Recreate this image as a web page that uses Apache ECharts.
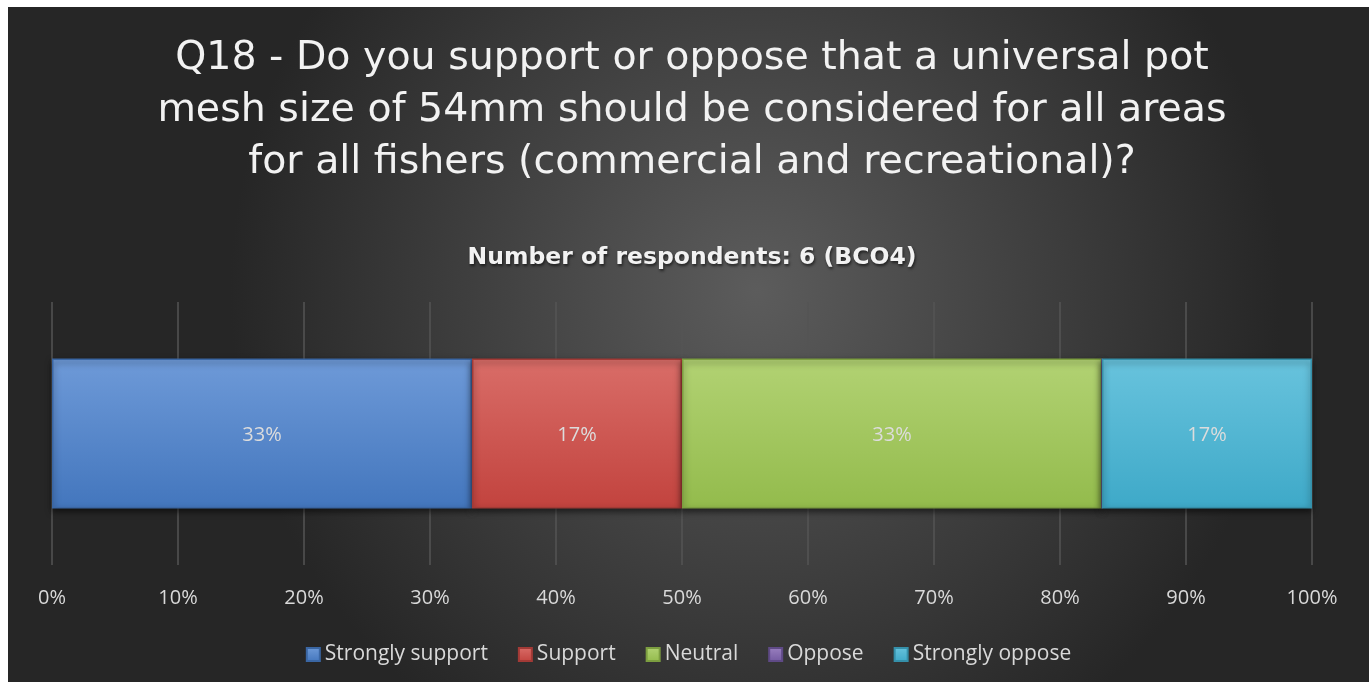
<!DOCTYPE html>
<html>
<head>
<meta charset="utf-8">
<script src="https://cdn.jsdelivr.net/npm/echarts@6/dist/echarts.min.js"></script>
<style>
  html, body { margin: 0; padding: 0; background: #ffffff; width: 1371px; height: 682px; overflow: hidden; }
  #chart { position: absolute; left: 8px; top: 7px; width: 1361px; height: 675px; }
</style>
</head>
<body>
<div id="chart"></div>
<script>
// ---- Data ----
const titleLines = [
  'Q18 - Do you support or oppose that a universal pot',
  'mesh size of 54mm should be considered for all areas',
  'for all fishers (commercial and recreational)?'
];
const subtitleText = 'Number of respondents: 6 (BCO4)';
const categories = ['BCO4'];
const seriesNames = ['Strongly support', 'Support', 'Neutral', 'Oppose', 'Strongly oppose'];
const strongSupport = [33.33];
const support = [16.67];
const neutral = [33.33];
const oppose = [0];
const strongOppose = [16.67];

// ---- Styles ----
const palettes = [
  ['#6e9ad8', '#4376bd', '#3a66a3'],
  ['#d96d68', '#c2433e', '#a23a36'],
  ['#b2d273', '#93bb4c', '#7c9e40'],
  ['#9a80c0', '#7359a0', '#5f4a86'],
  ['#68c3dd', '#3ea9c8', '#3590aa']
];
function grad(p) {
  return new echarts.graphic.LinearGradient(0, 0, 0, 1, [
    { offset: 0, color: p[0] },
    { offset: 1, color: p[1] }
  ]);
}
const seriesData = [strongSupport, support, neutral, oppose, strongOppose];

const chart = echarts.init(document.getElementById('chart'), null, { renderer: 'canvas' });
const option = {
  backgroundColor: new echarts.graphic.RadialGradient(0.55, 0.42, 0.78, [
    { offset: 0, color: '#5c5c5c' },
    { offset: 1, color: '#262626' }
  ]),
  title: [
    {
      text: titleLines.join('\n'),
      left: 679,
      top: 21,
      textAlign: 'center',
      textStyle: {
        fontFamily: 'DejaVu Sans',
        fontSize: 39.5,
        fontWeight: 'normal',
        color: '#f2f2f2',
        lineHeight: 52
      }
    },
    {
      text: subtitleText,
      left: 679,
      top: 234,
      textAlign: 'center',
      textStyle: {
        fontFamily: 'DejaVu Sans',
        fontSize: 23.5,
        fontWeight: 'bold',
        color: '#f2f2f2',
        textShadowColor: 'rgba(0,0,0,0.6)',
        textShadowBlur: 3,
        textShadowOffsetX: 1,
        textShadowOffsetY: 2
      }
    }
  ],
  legend: {
    data: seriesNames,
    left: 'center',
    top: 632,
    itemWidth: 13,
    itemHeight: 13,
    itemGap: 30,
    icon: 'rect',
    textStyle: {
      fontFamily: 'Open Sans',
      fontSize: 21,
      color: '#d9d9d9'
    }
  },
  grid: {
    left: 44,
    right: 57,
    top: 295,
    bottom: 117,
    containLabel: false
  },
  xAxis: {
    type: 'value',
    min: 0,
    max: 100,
    interval: 10,
    axisLine: { show: false },
    axisTick: { show: false },
    axisLabel: {
      margin: 23,
      fontFamily: 'Open Sans',
      fontSize: 20,
      color: '#d9d9d9',
      formatter: v => v + '%'
    },
    splitLine: { show: true, lineStyle: { color: '#555555', width: 1.5 } }
  },
  yAxis: {
    type: 'category',
    data: categories,
    axisLine: { show: false },
    axisTick: { show: false },
    axisLabel: { show: false },
    splitLine: { show: false }
  },
  series: seriesNames.map((name, i) => ({
    name: name,
    type: 'bar',
    stack: 'total',
    barWidth: 150,
    data: seriesData[i],
    itemStyle: {
      color: grad(palettes[i]),
      borderColor: palettes[i][2],
      borderWidth: 1.5,
      shadowColor: 'rgba(0,0,0,0.55)',
      shadowBlur: 6,
      shadowOffsetY: 3
    },
    label: {
      show: true,
      position: 'inside',
      offset: [0, 2],
      fontFamily: 'Open Sans',
      fontSize: 20,
      color: '#dcdcdc',
      formatter: p => (p.value > 0 ? Math.round(p.value) + '%' : '')
    }
  }))
};
chart.setOption(option);
</script>
</body>
</html>
